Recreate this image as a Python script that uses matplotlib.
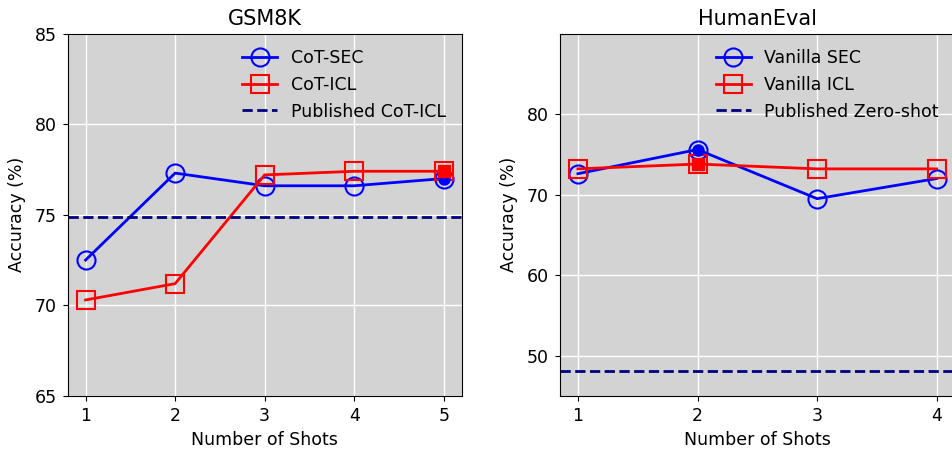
import numpy as np
import matplotlib
matplotlib.use("Agg")
import matplotlib.pyplot as plt

# GSM8K
gsm_shots = [1, 2, 3, 4, 5]
gsm_sec = [72.5, 77.3, 76.6, 76.6, 77.0]
gsm_icl = [70.3, 71.2, 77.2, 77.4, 77.4]
gsm_published = 74.9
gsm_best = 4  # index of highlighted point

# HumanEval
he_shots = [1, 2, 3, 4]
he_sec = [72.6, 75.6, 69.5, 72.0]
he_icl = [73.2, 73.8, 73.2, 73.2]
he_published = 48.1
he_best = 1

fig = plt.figure(figsize=(9.53, 4.49), dpi=100)
ax1 = fig.add_axes([0.0710, 0.1180, 0.4134, 0.8073])
ax2 = fig.add_axes([0.5876, 0.1180, 0.4141, 0.8073])


def draw(ax, shots, sec, icl, published, best, labels, title, ylim, yticks):
    ax.set_facecolor("lightgray")
    ax.grid(color="white", linewidth=1)
    ax.set_axisbelow(True)
    ax.plot(shots, sec, color="blue", marker="o", markersize=13, markerfacecolor="none",
            markeredgewidth=1.5, linewidth=2, label=labels[0])
    ax.plot(shots, icl, color="red", marker="s", markersize=13, markerfacecolor="none",
            markeredgewidth=1.5, linewidth=2, label=labels[1])
    ax.axhline(published, color="navy", linestyle="--", linewidth=2, label=labels[2])
    ax.plot(shots[best], sec[best], marker="o", color="blue", markersize=8, linestyle="none")
    ax.plot(shots[best], icl[best], marker="s", color="red", markersize=8, linestyle="none")
    ax.set_title(title, fontsize=15)
    ax.set_xlabel("Number of Shots", fontsize=12.5, labelpad=4.5)
    ax.set_ylabel("Accuracy (%)", fontsize=12.5, labelpad=6)
    ax.set_xticks(shots)
    ax.set_yticks(yticks)
    ax.set_ylim(*ylim)
    ax.tick_params(labelsize=12.5, pad=4.5)
    ax.legend(loc="upper right", frameon=False, fontsize=12.5)


draw(ax1, gsm_shots, gsm_sec, gsm_icl, gsm_published, gsm_best,
     ["CoT-SEC", "CoT-ICL", "Published CoT-ICL"], "GSM8K", (65, 85), [65, 70, 75, 80, 85])
draw(ax2, he_shots, he_sec, he_icl, he_published, he_best,
     ["Vanilla SEC", "Vanilla ICL", "Published Zero-shot"], "HumanEval", (45, 90), [50, 60, 70, 80])

fig.savefig("out.png", dpi=100)
